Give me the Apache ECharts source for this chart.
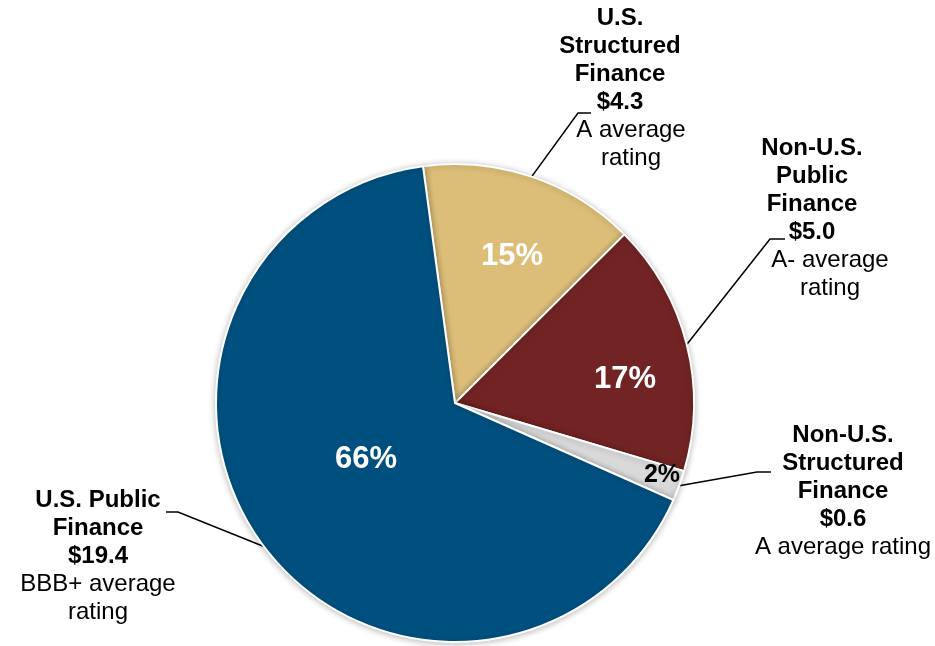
<!DOCTYPE html>
<html>
<head>
<meta charset="utf-8">
<script src="https://cdn.jsdelivr.net/npm/echarts@6/dist/echarts.min.js"></script>
<style>
html,body{margin:0;padding:0;background:#fff;}
#chart{width:935px;height:646px;}
</style>
</head>
<body>
<div id="chart"></div>
<script>
// ---- data ----
var categories = ['U.S.\nStructured\nFinance', 'Non-U.S.\nPublic\nFinance', 'Non-U.S.\nStructured\nFinance', 'U.S. Public\nFinance'];
var values = [4.3, 5.0, 0.6, 19.4];
var valueLabels = ['$4.3', '$5.0', '$0.6', '$19.4'];
var ratings = ['A average\nrating', 'A- average\nrating', 'A average rating', 'BBB+ average\nrating'];

// ---- styling / layout ----
var colors = ['#DCBE78', '#722424', '#D9D9D9', '#00507F'];
var pctColors = ['#ffffff', '#ffffff', '#000000', '#ffffff'];
var pctSizes = [31, 31, 25, 31];
var pctPos = [[512, 256], [625, 379], [662, 475], [366, 459]];
// outside label centres and leader-line elbow offsets relative to them
var outPos = [[620, 88], [812, 218], [843, 491], [98, 556]];
var ratingTag = ['n1', 'n2', 'n', 'n'];
var elbow = [[[-42, 25], [-29, 25]], [[-42, 21], [-27, 21]], [[-86, -19], [-72, -19]], [[80, -44], [68, -44]]];

var FONT = 'Arial, "Liberation Sans", Helvetica, sans-serif';
var center = [455, 403];
var radius = 239;

var mainData = values.map(function (v, i) {
  return {
    value: v, name: categories[i],
    itemStyle: { color: colors[i] },
    label: { color: pctColors[i], fontSize: pctSizes[i] }
  };
});
var outData = values.map(function (v, i) {
  return { value: v, name: categories[i], rating: ratings[i], vlabel: valueLabels[i] };
});

function richLines(text, tag) {
  return text.split('\n').map(function (t) { return '{' + tag + '|' + t + '}'; }).join('\n');
}

var chart = echarts.init(document.getElementById('chart'), null, { renderer: 'canvas' });
chart.setOption({
  backgroundColor: '#ffffff',
  animation: false,
  series: [
    {
      type: 'pie',
      center: center,
      radius: radius,
      startAngle: 97.7,
      clockwise: true,
      silent: true,
      percentPrecision: 0,
      itemStyle: {
        borderColor: '#ffffff', borderWidth: 2,
        shadowBlur: 6, shadowColor: 'rgba(0,0,0,0.25)', shadowOffsetX: 0, shadowOffsetY: 1
      },
      label: {
        show: true, position: 'inside',
        fontFamily: FONT, fontWeight: 'bold',
        formatter: function (p) { return Math.round(p.percent) + '%'; }
      },
      labelLine: { show: false },
      labelLayout: function (p) {
        var c = pctPos[p.dataIndex];
        return { x: c[0], y: c[1], align: 'center', verticalAlign: 'middle' };
      },
      emphasis: { disabled: true },
      data: mainData
    },
    {
      type: 'pie',
      center: center,
      radius: radius,
      startAngle: 97.7,
      clockwise: true,
      silent: true,
      itemStyle: { color: 'rgba(0,0,0,0)', borderWidth: 0 },
      label: {
        show: true, position: 'outside',
        color: '#000', fontFamily: FONT, fontSize: 24, lineHeight: 28,
        align: 'center',
        formatter: function (p) {
          return richLines(p.name, 'b') + '\n' + richLines(p.data.vlabel, 'b') + '\n' + richLines(p.data.rating, ratingTag[p.dataIndex]);
        },
        rich: {
          b: { fontFamily: FONT, fontSize: 24, fontWeight: 'bold', lineHeight: 28, color: '#000' },
          n: { fontFamily: FONT, fontSize: 24, fontWeight: 'normal', lineHeight: 28, color: '#000' },
          n1: { fontFamily: FONT, fontSize: 24, fontWeight: 'normal', lineHeight: 28, color: '#000', padding: [0, 0, 0, 22] },
          n2: { fontFamily: FONT, fontSize: 24, fontWeight: 'normal', lineHeight: 28, color: '#000', padding: [0, 0, 0, 36] }
        }
      },
      labelLine: { show: true, length: 20, length2: 10, smooth: false, lineStyle: { color: '#000', width: 1.5 } },
      labelLayout: function (p) {
        var i = p.dataIndex;
        var c = outPos[i];
        var e = elbow[i];
        var start = p.labelLinePoints ? p.labelLinePoints[0] : [c[0], c[1]];
        return {
          x: c[0], y: c[1], align: 'center', verticalAlign: 'middle',
          labelLinePoints: [start, [c[0] + e[0][0], c[1] + e[0][1]], [c[0] + e[1][0], c[1] + e[1][1]]]
        };
      },
      emphasis: { disabled: true },
      data: outData
    }
  ]
});
</script>
</body>
</html>
